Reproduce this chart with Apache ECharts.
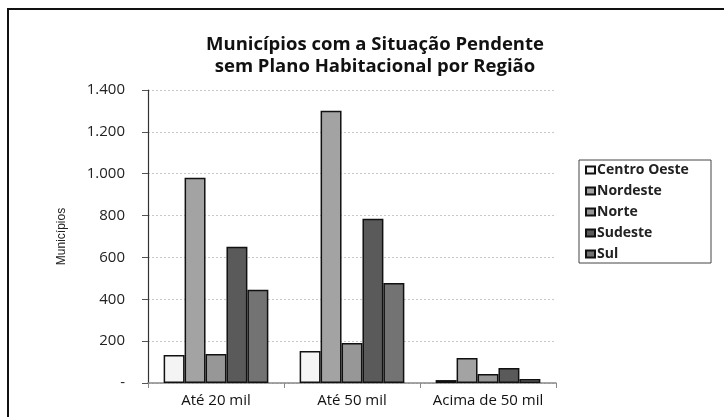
<!DOCTYPE html>
<html>
<head>
<meta charset="utf-8">
<script src="https://cdn.jsdelivr.net/npm/echarts@6/dist/echarts.min.js"></script>
<style>
  html, body { margin: 0; padding: 0; background: #ffffff; }
  #chart { width: 724px; height: 417px; }
</style>
</head>
<body>
<div id="chart"></div>
<script>
// Faixas populacionais (eixo X)
const categories = ['Até 20 mil', 'Até 50 mil', 'Acima de 50 mil'];

// Regiões e número de municípios em cada faixa
const regions = ['Centro Oeste', 'Nordeste', 'Norte', 'Sudeste', 'Sul'];
const centroOeste = [134, 153, 14];
const nordeste    = [981, 1301, 120];
const norte       = [139, 191, 43];
const sudeste     = [651, 785, 72];
const sul         = [445, 478, 19];

const regionColors = ['#f4f4f4', '#a3a3a3', '#979797', '#5a5a5a', '#737373'];
const values = [centroOeste, nordeste, norte, sudeste, sul];

const yTicks = { min: 0, max: 1400, interval: 200 };

function formatThousands(v) {
  if (v === 0) return '-';
  return String(v).replace(/\B(?=(\d{3})+(?!\d))/g, '.');
}

const chart = echarts.init(document.getElementById('chart'), null, { renderer: 'canvas' });

const series = regions.map((name, i) => ({
  name: name,
  type: 'bar',
  data: values[i],
  barGap: '0%',
  barCategoryGap: '23%',
  itemStyle: { color: regionColors[i], borderColor: '#111111', borderWidth: 1.5 },
  emphasis: { disabled: true }
}));

chart.setOption({
  animation: false,
  backgroundColor: '#ffffff',
  title: {
    text: 'Municípios com a Situação Pendente\nsem Plano Habitacional por Região',
    left: 370,
    textAlign: 'center',
    top: 29,
    textStyle: {
      fontFamily: 'Open Sans',
      fontWeight: 'bold',
      fontSize: 18.5,
      lineHeight: 22,
      color: '#111111'
    }
  },
  legend: {
    orient: 'vertical',
    left: 585,
    top: 163,
    itemWidth: 9,
    itemHeight: 7,
    itemGap: 7,
    padding: [0, 0, 0, 0],
    icon: 'rect',
    selectedMode: false,
    textStyle: { fontFamily: 'Open Sans', fontSize: 14, fontWeight: 'bold', lineHeight: 14, color: '#222222', padding: [0, 0, 0, -3] },
    data: regions
  },
  grid: { left: 148, right: 168, top: 90, bottom: 34, containLabel: false },
  xAxis: {
    type: 'category',
    data: categories,
    axisLine: { show: true, lineStyle: { color: '#888888', width: 1.5 } },
    axisTick: { show: true, length: 5, alignWithLabel: false, lineStyle: { color: '#888888' } },
    axisLabel: { interval: 0, fontFamily: 'Open Sans', fontSize: 15, color: '#111111', margin: 10 }
  },
  yAxis: {
    type: 'value',
    min: yTicks.min,
    max: yTicks.max,
    interval: yTicks.interval,
    name: 'Municípios',
    nameLocation: 'middle',
    nameGap: 80,
    nameRotate: 90,
    nameTextStyle: { fontFamily: 'Liberation Sans', fontSize: 12, color: '#222222' },
    axisLine: { show: true, lineStyle: { color: '#333333', width: 1.2 } },
    axisTick: { show: true, length: 6, lineStyle: { color: '#555555' } },
    axisLabel: {
      fontFamily: 'Open Sans',
      fontSize: 15,
      color: '#222222',
      margin: 23,
      formatter: formatThousands
    },
    splitLine: { show: true, lineStyle: { color: '#c8c8c8', type: [2, 2], width: 1 } }
  },
  graphic: [
    {
      type: 'rect',
      shape: { x: 579, y: 160, width: 132, height: 103 },
      style: { fill: 'none', stroke: '#444444', lineWidth: 1 },
      silent: true
    },
    {
      type: 'rect',
      shape: { x: 8, y: 9, width: 740, height: 430 },
      style: { fill: 'none', stroke: '#111111', lineWidth: 2 },
      silent: true
    }
  ],
  series: series
});
</script>
</body>
</html>
